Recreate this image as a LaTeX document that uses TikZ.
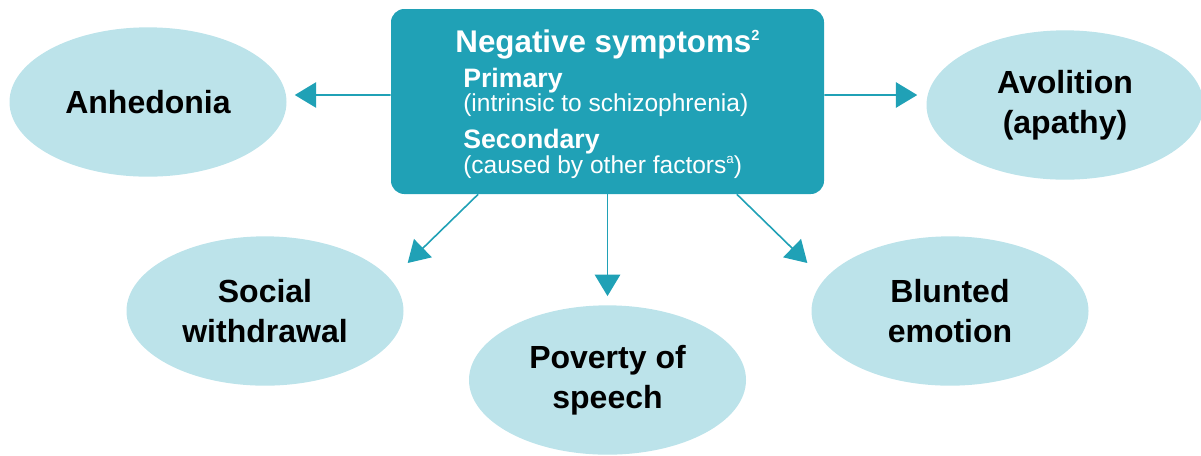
\documentclass[tikz,border=0pt]{standalone}
\usepackage{fontspec}
\setmainfont{Liberation Sans}
\usetikzlibrary{arrows.meta,positioning,shapes.geometric}
\definecolor{teal1}{HTML}{20A1B6}
\definecolor{pale}{HTML}{BCE3EA}
\newcommand{\supnum}[1]{\raisebox{8.5pt}{\fontsize{11}{11}\selectfont #1}}
\newcommand{\supnote}[1]{\raisebox{7pt}{\fontsize{10}{10}\selectfont #1}}
\tikzset{
  symp/.style={ellipse, fill=pale, inner sep=0pt, minimum width=207.75pt, minimum height=112pt,
    align=center, font=\fontsize{24}{30}\selectfont\bfseries},
  arr/.style={draw=teal1, line width=1.2pt, -{Triangle[length=16pt,width=19pt]}, teal1},
  boxtxt/.style={anchor=base west, text=white, inner sep=0pt}
}
\begin{document}
\begin{tikzpicture}[x=0.75pt, y=-0.75pt]
\useasboundingbox (0,0) rectangle (1201,455);
\node[fill=teal1, rounded corners=10pt, minimum width=324.75pt, minimum height=138.75pt, inner sep=0pt] (box) at (607.5,101.5) {};

\node[boxtxt, anchor=base, font=\fontsize{23.5}{28}\selectfont\bfseries] (title) at (607.5,52) {Negative symptoms\supnum{2}};
\node[boxtxt, font=\fontsize{20}{24}\selectfont\bfseries] (prim) at (463,87) {Primary};
\node[boxtxt, font=\fontsize{18.4}{22}\selectfont] (primnote) at (463,111) {(intrinsic to schizophrenia)};
\node[boxtxt, font=\fontsize{20}{24}\selectfont\bfseries] (sec) at (463,148) {Secondary};
\node[boxtxt, font=\fontsize{18.4}{22}\selectfont] (secnote) at (463,173) {(caused by other factors\supnote{a})};

\node[symp] (anh) at (148,102) {Anhedonia};
\node[symp] (avo) at (1065,105) {Avolition\\(apathy)};
\node[symp] (soc) at (265,311) {Social\\withdrawal};
\node[symp] (pov) at (607.5,380) {Poverty of\\speech};
\node[symp] (blu) at (950,311) {Blunted\\emotion};

\draw[arr] ([yshift=4.9pt]box.west) -- ([xshift=6pt,yshift=5.25pt]anh.east);
\draw[arr] ([yshift=4.9pt]box.east) -- ([xshift=-6.75pt,yshift=7.5pt]avo.west);
\draw[arr] ([xshift=-97pt]box.south) -- ([xshift=107pt,yshift=36pt]soc.center);
\draw[arr] (box.south) -- ([yshift=6.75pt]pov.north);
\draw[arr] ([xshift=97pt]box.south) -- ([xshift=-107pt,yshift=36pt]blu.center);
\end{tikzpicture}
\end{document}
